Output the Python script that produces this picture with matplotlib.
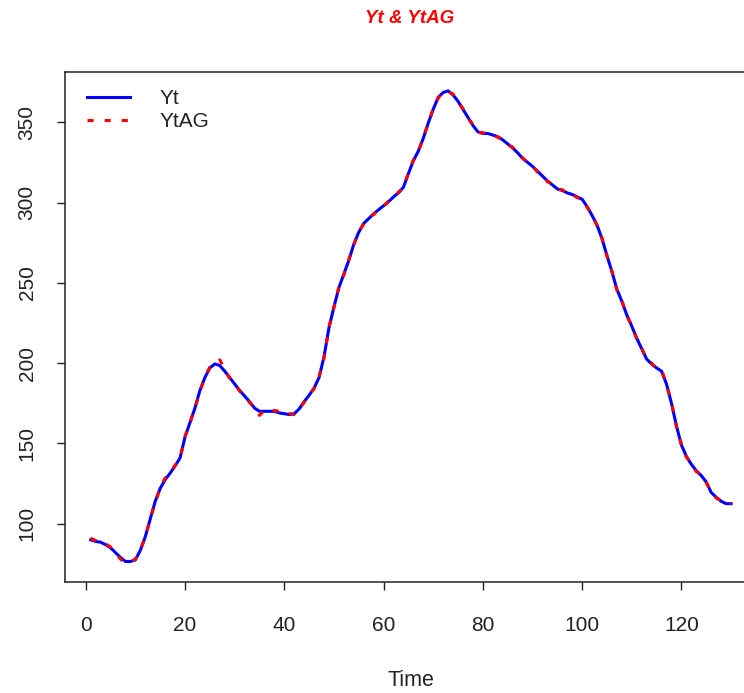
import numpy as np
import matplotlib
matplotlib.use("Agg")
import matplotlib.pyplot as plt

plt.rcParams['font.family'] = ['Liberation Sans', 'DejaVu Sans']

# series (Time = 1..130)
yt = [90, 89, 88.5, 87, 85, 82, 79, 76.5, 76.5, 77.5,
      83.5, 92, 103, 114, 122, 127.5, 131.5, 136, 141, 154,
      163, 172, 183, 191, 197, 199.5, 198.5, 195, 191, 187,
      183, 179.5, 176, 172, 170, 170, 170, 170, 169, 168.5,
      168, 168.5, 171.5, 176, 180, 184.5, 191, 204, 222, 235,
      247, 255.5, 264, 274, 281.5, 287, 290, 293, 295.5, 298,
      300.5, 303.5, 306, 309.5, 318, 326, 332, 340, 349.5, 358,
      365.5, 368.5, 369.5, 367, 363, 358, 353, 348, 344, 343,
      343, 342, 341, 339, 336.5, 334, 331, 327.5, 325, 322.5,
      319.5, 316.5, 313.5, 311, 308.5, 307.5, 306, 305, 303.5, 302,
      297.5, 292, 286, 277.5, 267, 257, 246, 238.5, 230, 223,
      215.5, 209, 202.5, 199.5, 197, 195, 187, 175, 161, 149,
      142, 137, 133, 130, 126, 119.5, 116.5, 114, 112.5, 112.5]

ytag = [91, 89.5, 88, 87.5, 85.5, 81.5, 78, 75.5, 76.5, 78,
        84, 91.5, 103.5, 113, 122.5, 128.5, 131, 136.5, 140.5, 154.5,
        162.5, 172.5, 182, 191.5, 197.5, 200, 202, 196, 190.5, 187.5,
        182.5, 180, 175.5, 172.5, 167.5, 170.5, 169.5, 170.5, 170, 168,
        168.5, 168, 172, 175.5, 180.5, 184, 191.5, 203, 222.5, 234.5,
        247.5, 255, 264.5, 273.5, 282, 286.5, 290.5, 292.5, 296, 297.5,
        301, 303, 306.5, 309, 318.5, 326.5, 331.5, 340.5, 349, 358.5,
        365, 369, 369, 367.5, 362.5, 358.5, 352.5, 348.5, 343.5, 343.5,
        342.5, 342.5, 340.5, 339.5, 336, 334.5, 330.5, 328, 324.5, 323,
        319, 317, 313, 311.5, 308, 308, 305.5, 305.5, 303, 302.5,
        297, 292.5, 285.5, 278, 266.5, 257.5, 245.5, 239, 229.5, 223.5,
        215, 209.5, 202, 200, 196.5, 196, 186.5, 175.5, 160.5, 149.5,
        141.5, 137.5, 132.5, 130.5, 125.5, 120, 116, 114.5, 112.5, 112.5]

time = np.arange(1, len(yt) + 1)
x_ticks = [0, 20, 40, 60, 80, 100, 120]
y_ticks = [100, 150, 200, 250, 300, 350]

fig = plt.figure(figsize=(7.44, 6.93), dpi=100)
# plot region runs past the right edge, as in the reference
ax = fig.add_axes([0.0875, 0.1602, 0.9295, 0.7359])

ax.plot(time, yt, color='blue', lw=2.2, label='Yt')
ax.plot(time, ytag, color='red', lw=2.2, dashes=(2.0, 3.6), label='YtAG')

# R style 4% padding
lo, hi = min(min(yt), min(ytag)), max(max(yt), max(ytag))
pad_y = 0.04 * (hi - lo)
pad_x = 0.04 * (time[-1] - time[0])
ax.set_xlim(time[0] - pad_x, time[-1] + pad_x)
ax.set_ylim(lo - pad_y, hi + pad_y)

ax.set_xticks(x_ticks)
ax.set_yticks(y_ticks)
ax.tick_params(direction='out', length=5.5, width=1, colors='#222222',
               labelsize=15)
ax.tick_params(axis='x', pad=19)
ax.tick_params(axis='y', pad=15)
for lab in ax.get_yticklabels():
    lab.set_rotation(90)
    lab.set_va('center')
for s in ax.spines.values():
    s.set_linewidth(1.1)
    s.set_color('#222222')
ax.spines['right'].set_visible(False)

ax.set_xlabel('Time', fontsize=15.5, color='#222222', labelpad=25)
fig.text(0.551, 0.973, 'Yt & YtAG', color='red', fontsize=13.5,
         fontweight='bold', fontstyle='italic', ha='center', va='center')

ax.legend(loc='upper left', frameon=False, fontsize=15, handlelength=2.1,
          handletextpad=1.4, labelspacing=0.2, borderaxespad=0.4,
          bbox_to_anchor=(0.007, 0.999), labelcolor='#222222')

fig.savefig('out.png', dpi=100)
